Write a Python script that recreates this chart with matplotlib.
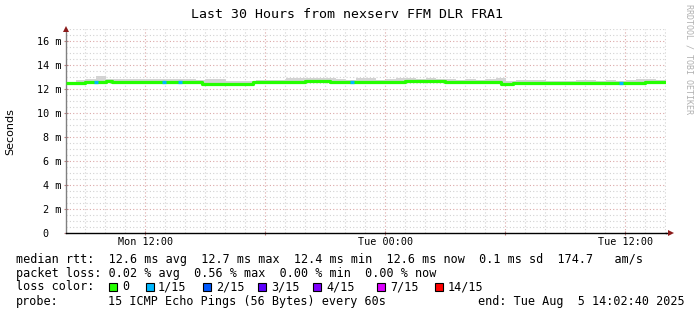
import datetime as dt
import numpy as np
import matplotlib
matplotlib.use("Agg")
import matplotlib.pyplot as plt
from matplotlib.patches import Rectangle

# ---------------- data ----------------
title = "Last 30 Hours from nexserv FFM DLR FRA1"
end_time = dt.datetime(2025, 8, 5, 14, 2, 40)
span_hours = 30

# median rtt (ms) as steps: start hour (from window start) and value
med_start_h = [0.0, 0.95, 2.0, 2.3, 6.8, 9.35, 11.95, 13.2, 16.95, 18.95, 21.75, 22.35, 28.95]
med_ms = [12.48, 12.58, 12.64, 12.58, 12.45, 12.58, 12.64, 12.58, 12.64, 12.58, 12.44, 12.50, 12.60]

# smoke (ping spread) per 30-minute bin, ms
smoke_hi = [12.60, 12.75, 12.85, 13.10, 12.85, 12.80, 12.85, 12.80, 12.85, 12.80,
            12.85, 12.85, 12.80, 12.75, 12.80, 12.80, 12.70, 12.65, 12.70, 12.75,
            12.75, 12.75, 12.90, 12.95, 12.95, 12.95, 12.90, 12.80, 12.75, 12.90,
            12.90, 12.75, 12.85, 12.90, 12.95, 12.85, 12.90, 12.80, 12.80, 12.75,
            12.80, 12.75, 12.80, 12.95, 12.70, 12.75, 12.75, 12.75, 12.70, 12.65,
            12.65, 12.75, 12.75, 12.70, 12.75, 12.70, 12.75, 12.80, 12.85, 12.75]
smoke_lo = [12.42, 12.45, 12.50, 12.50, 12.52, 12.50, 12.50, 12.52, 12.50, 12.50,
            12.52, 12.50, 12.50, 12.50, 12.38, 12.38, 12.40, 12.38, 12.40, 12.50,
            12.52, 12.50, 12.52, 12.55, 12.55, 12.52, 12.50, 12.52, 12.50, 12.50,
            12.52, 12.50, 12.50, 12.52, 12.55, 12.55, 12.55, 12.52, 12.50, 12.50,
            12.52, 12.50, 12.50, 12.38, 12.42, 12.42, 12.40, 12.42, 12.42, 12.40,
            12.42, 12.40, 12.42, 12.40, 12.42, 12.40, 12.42, 12.42, 12.52, 12.52]

# packet loss events: start hour, duration hour, loss label
loss_start_h = [1.4, 4.8, 5.6, 14.2, 27.65]
loss_dur_h = [0.2, 0.2, 0.2, 0.2, 0.2]
loss_label = ["1/15", "1/15", "1/15", "1/15", "1/15"]

loss_names = ["0", "1/15", "2/15", "3/15", "4/15", "7/15", "14/15"]
loss_colors = ["#26ff00", "#00b8ff", "#0059ff", "#5e00ff", "#7e00ff", "#dd00ff", "#ff0000"]

x_tick_labels = ["Mon 12:00", "Tue 00:00", "Tue 12:00"]
y_ticks = [0, 2, 4, 6, 8, 10, 12, 14, 16]
y_tick_labels = ["0  ", "2 m", "4 m", "6 m", "8 m", "10 m", "12 m", "14 m", "16 m"]

legend_row1 = "median rtt:  12.6 ms avg  12.7 ms max  12.4 ms min  12.6 ms now  0.1 ms sd  174.7   am/s"
legend_row2 = "packet loss: 0.02 % avg  0.56 % max  0.00 % min  0.00 % now"
probe_text = "15 ICMP Echo Pings (56 Bytes) every 60s"
end_text = "end: Tue Aug  5 14:02:40 2025"

# ---------------- figure ----------------
W, H = 697, 315
fig = plt.figure(figsize=(W / 100, H / 100), dpi=100)
fig.patch.set_facecolor("white")

def fx(px):
    return px / W

def fy(py):
    return 1 - py / H

ax_left, ax_right, ax_top, ax_bot = 66, 666, 29, 233
ax = fig.add_axes([fx(ax_left), fy(ax_bot), (ax_right - ax_left) / W, (ax_bot - ax_top) / H])
ax.set_xlim(0, span_hours)
ax.set_ylim(0, 17)
ax.set_facecolor("white")

start_time = end_time - dt.timedelta(hours=span_hours)

def hours_of(t):
    return (t - start_time).total_seconds() / 3600.0

# grid lines
first_hour = start_time.replace(minute=0, second=0) + dt.timedelta(hours=1)
t = first_hour
minor_color = "#d2d2d2"
major_color = "#dba8a8"
while t <= end_time:
    h = hours_of(t)
    if t.hour % 6 == 0:
        ax.axvline(h, color=major_color, lw=0.8, ls=(0, (1, 2)), zorder=1)
    else:
        ax.axvline(h, color=minor_color, lw=0.8, ls=(0, (1, 2)), zorder=0.5)
    t += dt.timedelta(hours=1)
for yv in np.arange(0.5, 17.01, 0.5):
    if abs(yv % 2) < 1e-9:
        ax.axhline(yv, color=major_color, lw=0.8, ls=(0, (1, 2)), zorder=1)
    else:
        ax.axhline(yv, color=minor_color, lw=0.8, ls=(0, (1, 2)), zorder=0.5)

# smoke
edges = np.arange(len(smoke_hi) + 1) * 0.5
ax.fill_between(edges, smoke_lo + [smoke_lo[-1]], smoke_hi + [smoke_hi[-1]],
                step="post", color="#d3d3d3", lw=0, zorder=2)

# median line
mx = med_start_h + [span_hours]
my = med_ms + [med_ms[-1]]
ax.step(mx, my, where="post", color=loss_colors[0], lw=2.3, zorder=3,
        solid_capstyle="butt")

# loss coloured segments
for s, d, lab in zip(loss_start_h, loss_dur_h, loss_label):
    idx = np.searchsorted(med_start_h, s, side="right") - 1
    col = loss_colors[loss_names.index(lab)]
    ax.hlines(med_ms[idx], s, s + d, color=col, lw=2.3, zorder=4)

# axes styling
for sp in ["top", "right"]:
    ax.spines[sp].set_visible(False)
ax.spines["left"].set_color("#808080")
ax.spines["left"].set_linewidth(1.0)
ax.spines["bottom"].set_color("black")
ax.spines["bottom"].set_linewidth(1.0)

ax.set_yticks(y_ticks)
ax.set_yticklabels(y_tick_labels, fontfamily="DejaVu Sans Mono", fontsize=7.3)
ax.tick_params(axis="y", direction="inout", length=3, color="#c08080", pad=2)

xt_pos = []
xt_lab = []
t = first_hour
while t <= end_time:
    if t.hour % 6 == 0:
        xt_pos.append(hours_of(t))
        xt_lab.append("")
    t += dt.timedelta(hours=1)
lab_i = 0
for i, p in enumerate(xt_pos):
    tt = start_time + dt.timedelta(hours=p)
    if tt.hour == 12 or tt.hour == 0:
        xt_lab[i] = x_tick_labels[lab_i]
        lab_i += 1
ax.set_xticks(xt_pos)
ax.set_xticklabels(xt_lab, fontfamily="DejaVu Sans Mono", fontsize=7.3)
ax.tick_params(axis="x", direction="inout", length=3, color="#c08080", pad=1.5)

# arrows
ax.plot([span_hours, span_hours + 0.15], [0, 0], color="black", lw=1.0, clip_on=False, zorder=5)
ax.plot([span_hours + 0.25], [0], marker=">", color="#8b1a1a", ms=4.5, clip_on=False, zorder=6, mew=0)
ax.plot([0], [17], marker="^", color="#8b1a1a", ms=4.5, clip_on=False, zorder=6, mew=0)

# title and side texts
mono = "DejaVu Sans Mono"
fig.text(fx(347), fy(14), title, ha="center", va="center", fontfamily=mono, fontsize=9.5)
fig.text(fx(10), fy(132), "Seconds", rotation=90, ha="center", va="center",
         fontfamily="DejaVu Sans", fontsize=8)
fig.text(fx(689), fy(4), "RRDTOOL / TOBI OETIKER", rotation=-90, ha="center", va="top",
         fontfamily=mono, fontsize=6, color="#b0b0b0")

# legend rows
x0 = 15.5
fs = 8.5
fig.text(fx(x0), fy(259), legend_row1, ha="left", va="center", fontfamily=mono, fontsize=fs)
fig.text(fx(x0), fy(273), legend_row2, ha="left", va="center", fontfamily=mono, fontsize=fs)
fig.text(fx(x0), fy(287), "loss color:", ha="left", va="center", fontfamily=mono, fontsize=fs)
box_x = [109, 146, 203, 258, 313, 377, 435]
lab_x = [122, 158, 216, 271, 326, 390, 448]
for bx, lx, name, col in zip(box_x, lab_x, loss_names, loss_colors):
    fig.patches.append(Rectangle((fx(bx), fy(291)), 8 / W, 8 / H, transform=fig.transFigure,
                                 facecolor=col, edgecolor="black", lw=0.8))
    fig.text(fx(lx), fy(287), name, ha="left", va="center", fontfamily=mono, fontsize=fs)
fig.text(fx(x0), fy(301), "probe:", ha="left", va="center", fontfamily=mono, fontsize=fs)
fig.text(fx(x0 + 13 * 7.1), fy(301), probe_text, ha="left", va="center", fontfamily=mono, fontsize=fs)
fig.text(fx(477.5), fy(301), end_text, ha="left", va="center", fontfamily=mono, fontsize=fs)

fig.savefig("out.png", dpi=100, facecolor="white")
